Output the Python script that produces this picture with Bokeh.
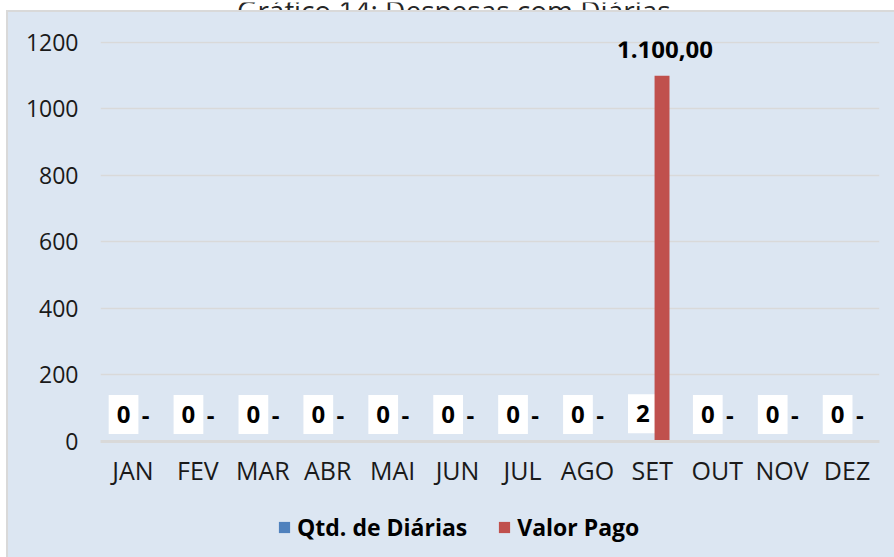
from bokeh.plotting import figure
from bokeh.models import (ColumnDataSource, Range1d, Legend, LegendItem,
                          FixedTicker, Spacer)
from bokeh.layouts import column, row
from bokeh.transform import dodge
from bokeh.core.properties import value
from bokeh.embed import file_html
from bokeh.resources import INLINE

# ---- data -------------------------------------------------------------
months = ["JAN", "FEV", "MAR", "ABR", "MAI", "JUN",
          "JUL", "AGO", "SET", "OUT", "NOV", "DEZ"]
qtd_diarias = [0, 0, 0, 0, 0, 0, 0, 0, 2, 0, 0, 0]
valor_pago = [0, 0, 0, 0, 0, 0, 0, 0, 1100, 0, 0, 0]
y_ticks = [0, 200, 400, 600, 800, 1000, 1200]
series_names = ["Qtd. de Diárias", "Valor Pago"]
chart_title = "Gráfico 14:  Despesas com Diárias"


def fmt_brl(v):
    if v == 0:
        return "-"
    s = f"{v:,.2f}"
    return s.replace(",", "X").replace(".", ",").replace("X", ".")


src = ColumnDataSource(dict(
    month=months,
    qtd=qtd_diarias,
    valor=valor_pago,
    qtd_txt=[str(v) for v in qtd_diarias],
    valor_txt=[fmt_brl(v) for v in valor_pago],
))

BG = "#DCE6F2"
GRID = "#D9D9D9"
BLUE = "#4F81BD"
RED = "#C0504D"
FONT = "Open Sans"

# ---- title strip (title is cut off at the top, as in the reference) ----
tf = figure(width=894, height=10, x_range=Range1d(0, 894), y_range=Range1d(0, 10),
            output_backend="svg", toolbar_location=None, min_border=0,
            x_axis_type=None, y_axis_type=None)
tf.outline_line_color = None
tf.background_fill_color = "white"
tf.border_fill_color = "white"
tf.xgrid.visible = False
tf.ygrid.visible = False
tf.text(x=[457], y=[3], text=[chart_title], text_align="center",
        text_baseline="alphabetic", text_font=value(FONT),
        text_font_size="28px", text_color="#262626")

# ---- main chart --------------------------------------------------------
p = figure(x_range=months, y_range=Range1d(0, 1203),
           frame_width=779, frame_height=400,
           output_backend="svg", toolbar_location=None,
           min_border_left=92, min_border_right=15,
           min_border_top=29, min_border_bottom=54)
p.background_fill_color = BG
p.border_fill_color = BG
p.outline_line_color = None

r_q = p.vbar(x=dodge("month", -0.145, range=p.x_range), top="qtd", width=0.23,
             source=src, fill_color=BLUE, line_color=None)
p.text(x=dodge("month", -0.145, range=p.x_range), y="qtd", text="qtd_txt",
       source=src, y_offset=-27, text_align="center", text_baseline="middle",
       text_font=value(FONT), text_font_size="24px", text_font_style="bold",
       text_color="black", background_fill_color="white",
       padding=dict(x=8, y=11))
r_v = p.vbar(x=dodge("month", 0.15, range=p.x_range), top="valor", width=0.23,
             source=src, fill_color=RED, line_color=None)
p.text(x=dodge("month", 0.15, range=p.x_range), y="valor", text="valor_txt",
       source=src, x_offset=3, y_offset=-26, text_align="center",
       text_baseline="middle", text_font=value(FONT), text_font_size="24px",
       text_font_style="bold", text_color="black")

p.yaxis.ticker = FixedTicker(ticks=y_ticks)
for ax in (p.xaxis[0], p.yaxis[0]):
    ax.major_tick_line_color = None
    ax.minor_tick_line_color = None
    ax.major_tick_in = 0
    ax.major_tick_out = 0
    ax.major_label_text_font = FONT
    ax.major_label_text_color = "#1A1A1A"
p.yaxis.major_label_text_font_size = "23px"
p.xaxis.major_label_text_font_size = "25px"
p.yaxis.axis_line_color = None
p.yaxis.major_label_standoff = 22
p.xaxis.axis_line_color = GRID
p.xaxis.axis_line_width = 3
p.xaxis.major_label_standoff = 11

p.xgrid.grid_line_color = None
p.ygrid.grid_line_color = GRID
p.ygrid.grid_line_width = 1.5

# ---- legend strip below the chart (same blue box, same frame edges) ----
lf = figure(x_range=Range1d(0, 1), y_range=Range1d(0, 1),
            frame_width=779, frame_height=62,
            output_backend="svg", toolbar_location=None,
            min_border_left=92, min_border_right=15,
            min_border_top=0, min_border_bottom=0,
            x_axis_type=None, y_axis_type=None)
lf.outline_line_color = None
lf.background_fill_alpha = 0
lf.border_fill_color = BG
lf.xgrid.visible = False
lf.ygrid.visible = False
# zero-height legend keys (only their colour swatches are shown)
k_q = lf.vbar(x=[0], top=[0], width=0.01, fill_color=BLUE, line_color=None)
k_v = lf.vbar(x=[0], top=[0], width=0.01, fill_color=RED, line_color=None)
legend = Legend(items=[LegendItem(label=series_names[0], renderers=[k_q]),
                       LegendItem(label=series_names[1], renderers=[k_v])],
                orientation="horizontal", location=(177, 14),
                label_text_font=FONT, label_text_font_size="23px",
                label_text_font_style="bold", label_text_color="black",
                glyph_width=14, glyph_height=14, label_standoff=6,
                spacing=30, padding=0, margin=0,
                background_fill_alpha=0, border_line_color=None)
lf.add_layout(legend, "center")

# ---- page: white margin strips and grey box border around the chart ----
root = column(
    tf,
    row(Spacer(width=6, height=547),
        column(Spacer(width=888, height=2, styles={"background-color": GRID}),
               row(Spacer(width=2, height=545, styles={"background-color": GRID}),
                   column(p, lf, styles={"background-color": BG})))),
)

open("out.html", "w").write(file_html(root, INLINE))
